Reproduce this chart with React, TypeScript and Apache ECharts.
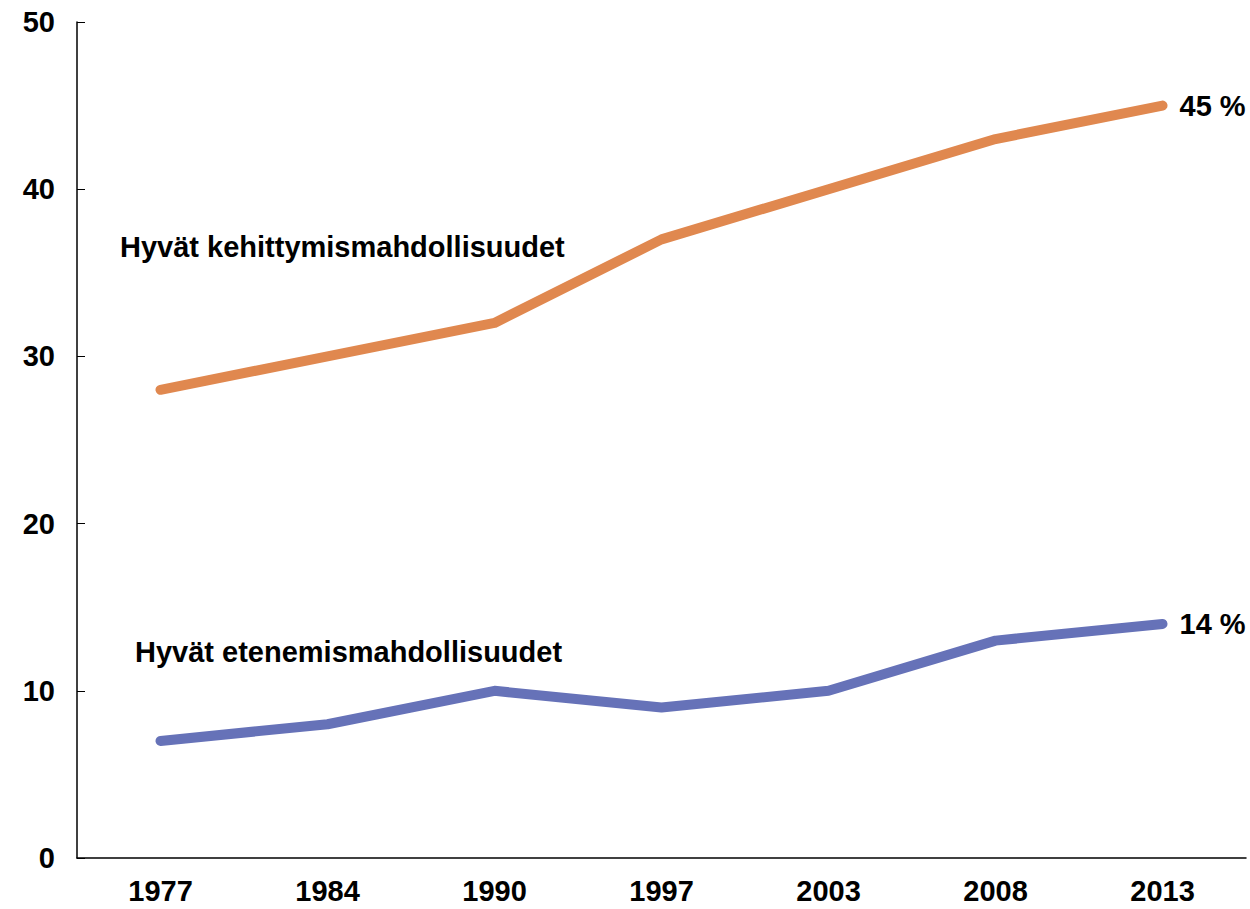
import React, { useEffect, useRef } from "react";
import * as echarts from "echarts";

const years = ["1977", "1984", "1990", "1997", "2003", "2008", "2013"];
const kehittyminen = [28, 30, 32, 37, 40, 43, 45];
const eteneminen = [7, 8, 10, 9, 10, 13, 14];
const yTicks = { min: 0, max: 50, interval: 10 };
const labelKehitys = "Hyvät kehittymismahdollisuudet";
const labelEtenem = "Hyvät etenemismahdollisuudet";

const FONT = "'Liberation Sans', Arial, sans-serif";
const ORANGE = "#E0884F";
const BLUE = "#6672B8";

export default function App() {
  const ref = useRef<HTMLDivElement>(null);
  useEffect(() => {
    if (!ref.current) return;
    const chart = echarts.init(ref.current, undefined, { renderer: "svg" });
    const txt = { fontFamily: FONT, fontWeight: "bold" as const, fontSize: 29, color: "#000" };
    chart.setOption({
      animation: false,
      backgroundColor: "#fff",
      grid: { left: 77, top: 22, right: 4, bottom: 51, containLabel: false },
      xAxis: {
        type: "category",
        data: years,
        boundaryGap: true,
        axisLine: { lineStyle: { color: "#000", width: 1.5 } },
        axisTick: { inside: true, length: 7, lineStyle: { color: "#000", width: 1 } },
        axisLabel: { ...txt, margin: 18 },
        splitLine: { show: false },
      },
      yAxis: {
        type: "value",
        min: yTicks.min,
        max: yTicks.max,
        interval: yTicks.interval,
        axisLine: { show: true, lineStyle: { color: "#000", width: 1.5 } },
        axisTick: { show: true, inside: true, length: 8, lineStyle: { color: "#000", width: 1 } },
        axisLabel: { ...txt, margin: 22 },
        splitLine: { show: false },
      },
      series: [
        {
          type: "line",
          data: kehittyminen,
          symbol: "none",
          lineStyle: { color: ORANGE, width: 10, cap: "round", join: "round" },
          endLabel: { show: true, formatter: (p: any) => p.value + " %", ...txt, distance: 17 },
        },
        {
          type: "line",
          data: eteneminen,
          symbol: "none",
          lineStyle: { color: BLUE, width: 10, cap: "round", join: "round" },
          endLabel: { show: true, formatter: (p: any) => p.value + " %", ...txt, distance: 17 },
        },
      ],
      graphic: [
        {
          type: "text",
          left: 120,
          top: 232,
          style: { text: labelKehitys, font: `bold 29px ${FONT}`, fill: "#000" },
        },
        {
          type: "text",
          left: 135,
          top: 637,
          style: { text: labelEtenem, font: `bold 29px ${FONT}`, fill: "#000" },
        },
      ],
    });
    return () => chart.dispose();
  }, []);
  return (
    <div
      ref={ref}
      style={{ position: "fixed", left: 0, top: 0, width: 1250, height: 909, background: "#fff" }}
    />
  );
}
